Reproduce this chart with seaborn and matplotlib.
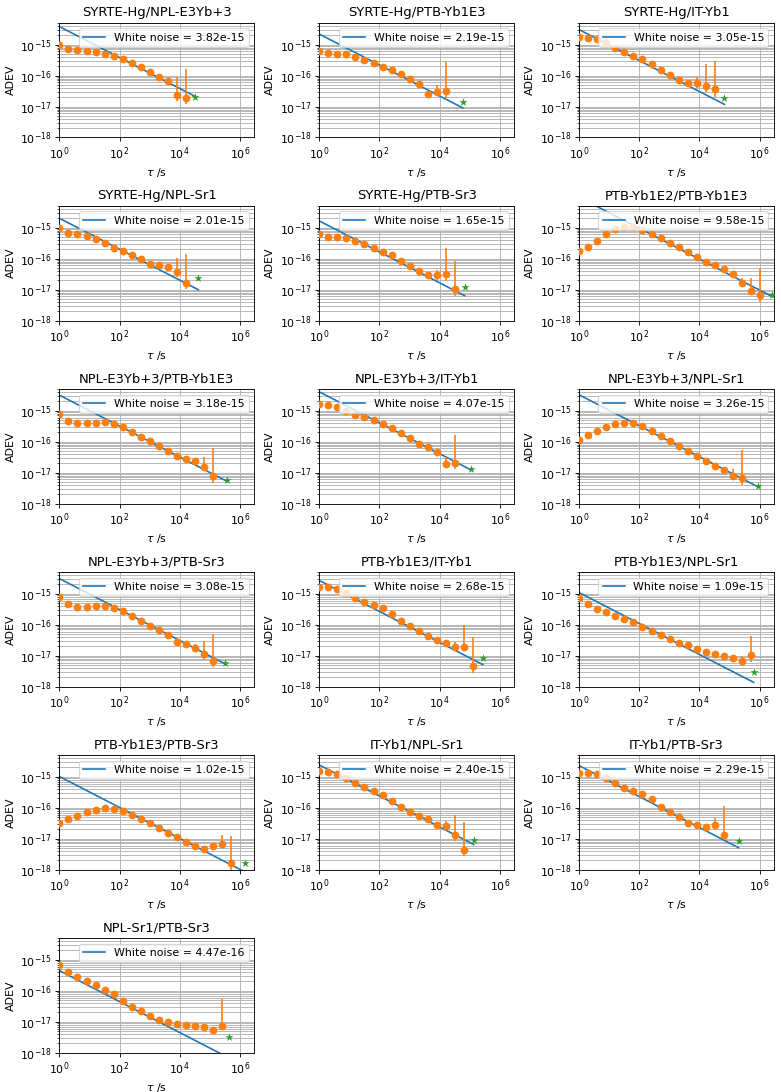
import numpy as np
import matplotlib
matplotlib.use('Agg')
import matplotlib.pyplot as plt
import seaborn as sns

# Pair names, white-noise level and total measurement time per link
titles = ['SYRTE-Hg/NPL-E3Yb+3', 'SYRTE-Hg/PTB-Yb1E3', 'SYRTE-Hg/IT-Yb1',
          'SYRTE-Hg/NPL-Sr1', 'SYRTE-Hg/PTB-Sr3', 'PTB-Yb1E2/PTB-Yb1E3',
          'NPL-E3Yb+3/PTB-Yb1E3', 'NPL-E3Yb+3/IT-Yb1', 'NPL-E3Yb+3/NPL-Sr1',
          'NPL-E3Yb+3/PTB-Sr3', 'PTB-Yb1E3/IT-Yb1', 'PTB-Yb1E3/NPL-Sr1',
          'PTB-Yb1E3/PTB-Sr3', 'IT-Yb1/NPL-Sr1', 'IT-Yb1/PTB-Sr3',
          'NPL-Sr1/PTB-Sr3']
white_noise = [3.82e-15, 2.19e-15, 3.05e-15, 2.01e-15, 1.65e-15, 9.58e-15,
               3.18e-15, 4.07e-15, 3.26e-15, 3.08e-15, 2.68e-15, 1.09e-15,
               1.02e-15, 2.40e-15, 2.29e-15, 4.47e-16]
t_total = [3.3e4, 5.9e4, 6.8e4, 4.2e4, 6.8e4, 2.6e6, 3.6e5, 1.08e5, 9.1e5,
           3.2e5, 2.75e5, 6.3e5, 1.5e6, 1.36e5, 2.0e5, 4.4e5]
star_adev = [2.1e-17, 1.36e-17, 1.88e-17, 2.36e-17, 1.22e-17, 6.9e-18,
             5.9e-18, 1.26e-17, 3.7e-18, 5.75e-18, 8.1e-18, 2.9e-18,
             1.62e-18, 9.1e-18, 8.7e-18, 3.1e-18]

# ADEV at tau = 1, 2, 4, ... s (octave spacing)
adev = [
    [9.5e-16, 7.1e-16, 6.6e-16, 6.2e-16, 5.8e-16, 5.1e-16, 4.4e-16, 3.3e-16,
     2.45e-16, 1.82e-16, 1.32e-16, 9.3e-17, 6.9e-17, 2.3e-17, 1.9e-17],
    [6.25e-16, 5.4e-16, 5.1e-16, 4.9e-16, 4.0e-16, 3.13e-16, 2.45e-16,
     1.91e-16, 1.53e-16, 1.11e-16, 7.5e-17, 5.3e-17, 2.46e-17, 3.0e-17, 3.2e-17],
    [1.76e-15, 1.68e-15, 1.48e-15, 1.13e-15, 7.8e-16, 5.67e-16, 4.43e-16,
     3.3e-16, 2.34e-16, 1.53e-16, 1.03e-16, 7.1e-17, 5.6e-17, 5.6e-17,
     4.57e-17, 3.6e-17],
    [9.7e-16, 6.9e-16, 6.1e-16, 5.4e-16, 4.2e-16, 3.16e-16, 2.24e-16,
     1.71e-16, 1.34e-16, 9.8e-17, 6.6e-17, 6.3e-17, 5.3e-17, 3.6e-17, 1.67e-17],
    [6.1e-16, 5.0e-16, 4.8e-16, 4.57e-16, 3.75e-16, 2.94e-16, 2.14e-16,
     1.67e-16, 1.34e-16, 8.6e-17, 5.6e-17, 4.1e-17, 2.95e-17, 2.95e-17,
     3.1e-17, 1.08e-17],
    [1.8e-16, 2.3e-16, 3.75e-16, 6.1e-16, 8.85e-16, 1.05e-15, 1.05e-15,
     8.2e-16, 6.1e-16, 4.57e-16, 3.24e-16, 2.3e-16, 1.59e-16, 1.1e-16,
     7.8e-17, 6.0e-17, 4.7e-17, 3.1e-17, 1.63e-17, 9.1e-18, 6.6e-18],
    [7.65e-16, 4.7e-16, 3.87e-16, 3.87e-16, 4.07e-16, 4.27e-16, 3.6e-16,
     2.9e-16, 2.06e-16, 1.4e-16, 1.02e-16, 7.06e-17, 4.8e-17, 3.4e-17,
     2.67e-17, 2.3e-17, 1.56e-17, 7.5e-18],
    [1.59e-15, 1.51e-15, 1.34e-15, 1.0e-15, 7.3e-16, 6.15e-16, 5.06e-16,
     3.78e-16, 2.75e-16, 1.87e-16, 1.3e-16, 8.2e-17, 6.56e-17, 4.67e-17,
     1.95e-17, 2.1e-17],
    [1.12e-16, 1.61e-16, 2.27e-16, 3.04e-16, 3.69e-16, 4.07e-16, 3.87e-16,
     3.11e-16, 2.16e-16, 1.47e-16, 1.02e-16, 7.06e-17, 5.0e-17, 3.4e-17,
     2.36e-17, 1.64e-17, 1.23e-17, 7.7e-18, 6.8e-18],
    [7.66e-16, 4.72e-16, 3.8e-16, 3.8e-16, 3.98e-16, 3.98e-16, 3.36e-16,
     2.77e-16, 1.97e-16, 1.34e-16, 9.3e-17, 6.5e-17, 4.5e-17, 2.77e-17,
     2.45e-17, 1.83e-17, 1.13e-17, 6.95e-18],
    [1.63e-15, 1.6e-15, 1.45e-15, 1.05e-15, 7.3e-16, 5.28e-16, 4.34e-16,
     3.48e-16, 2.18e-16, 1.3e-16, 9.0e-17, 6.4e-17, 4.4e-17, 3.2e-17,
     2.63e-17, 1.86e-17, 1.86e-17, 4.7e-18],
    [7.5e-16, 4.5e-16, 3.2e-16, 2.51e-16, 1.92e-16, 1.51e-16, 1.19e-16,
     8.65e-17, 6.46e-17, 4.72e-17, 3.53e-17, 2.63e-17, 2.22e-17, 1.7e-17,
     1.34e-17, 1.1e-17, 1.0e-17, 8.2e-18, 6.6e-18, 1.05e-17],
    [3.28e-17, 4.17e-17, 5.3e-17, 7.26e-17, 8.6e-17, 9.7e-17, 9.25e-17,
     7.6e-17, 5.7e-17, 4.38e-17, 3.13e-17, 2.19e-17, 1.52e-17, 1.11e-17,
     7.76e-18, 5.66e-18, 4.79e-18, 5.66e-18, 6.87e-18, 1.62e-18],
    [1.54e-15, 1.44e-15, 1.21e-15, 8.9e-16, 6.18e-16, 4.63e-16, 3.47e-16,
     2.66e-16, 1.69e-16, 1.07e-16, 7.43e-17, 5.31e-17, 4.17e-17, 2.71e-17,
     2.51e-17, 1.32e-17, 4.46e-18],
    [1.37e-15, 1.3e-15, 1.21e-15, 9.3e-16, 6.18e-16, 4.41e-16, 3.47e-16,
     2.86e-16, 1.86e-16, 1.07e-16, 7.26e-17, 5.06e-17, 3.28e-17, 2.71e-17,
     2.4e-17, 2.71e-17, 1.35e-17],
    [7.0e-16, 4.1e-16, 2.85e-16, 2.14e-16, 1.57e-16, 1.07e-16, 7.7e-17,
     4.8e-17, 3.1e-17, 2.2e-17, 1.5e-17, 1.15e-17, 9.5e-18, 8.5e-18,
     7.8e-18, 7.3e-18, 7.0e-18, 5.3e-18, 7.3e-18],
]

# Upper / lower ends of the visible error bars, for the last points of each series
err_hi = [
    [7.6e-17, 8.7e-17, 1.58e-16],
    [2.7e-17, 4.9e-17, 2.7e-16],
    [8.7e-17, 2.34e-16, 2.9e-16],
    [6.0e-17, 1.02e-16, 1.4e-16],
    [4.35e-17, 2.19e-16, 8.6e-17],
    [2.4e-17, 2.36e-17, 5.0e-17],
    [2.6e-17, 3.1e-17, 6.1e-17],
    [5.2e-17, 3.1e-17, 1.62e-16],
    [1.35e-17, 1.35e-17, 5.3e-17],
    [2.45e-17, 2.98e-17, 5.1e-17],
    [2.83e-17, 9.7e-17, 3.9e-17],
    [9.5e-18, 1.0e-17, 4.2e-17],
    [6.6e-18, 1.35e-17, 1.26e-17],
    [3.7e-17, 5.7e-17, 3.5e-17],
    [3.0e-17, 4.7e-17, 1.1e-16],
    [7.8e-18, 6.2e-18, 5.5e-17],
]
err_lo = [
    [6.2e-17, 1.5e-17, 1.2e-17],
    [2.2e-17, 2.35e-17, 1.94e-17],
    [4.1e-17, 3.0e-17, 2.1e-17],
    [4.7e-17, 2.5e-17, 1.05e-17],
    [2.1e-17, 1.9e-17, 6.3e-18],
    [1.28e-17, 6.9e-18, 4.0e-18],
    [2.0e-17, 1.23e-17, 4.7e-18],
    [4.2e-17, 1.49e-17, 1.29e-17],
    [1.1e-17, 6.3e-18, 4.1e-18],
    [1.5e-17, 7.7e-18, 4.3e-18],
    [1.54e-17, 1.54e-17, 2.75e-18],
    [7.0e-18, 4.5e-18, 6.3e-18],
    [4.8e-18, 5.0e-18, 5.0e-19],
    [2.03e-17, 8.3e-18, 2.75e-18],
    [2.0e-17, 2.03e-17, 9.1e-18],
    [6.2e-18, 4.3e-18, 5.25e-18],
]

DPI = 79
fig, axes = plt.subplots(6, 3, figsize=(781 / DPI, 1092 / DPI), dpi=DPI)
axes = axes.ravel()

for i, title in enumerate(titles):
    ax = axes[i]
    vals = np.array(adev[i])
    taus = 2.0 ** np.arange(len(vals))
    hi = vals.copy()
    lo = vals.copy()
    n = len(err_hi[i])
    hi[-n:] = err_hi[i]
    lo[-n:] = err_lo[i]

    T = t_total[i]
    sigma = white_noise[i]
    sns.lineplot(x=[1.0, T], y=[sigma, sigma / np.sqrt(T)], ax=ax, color='C0',
                 label=f'White noise = {sigma:.2e}')
    ax.errorbar(taus, vals, yerr=[vals - lo, hi - vals], fmt='none',
                ecolor='C1', elinewidth=1.5, zorder=3)
    sns.scatterplot(x=taus, y=vals, ax=ax, color='C1', s=50, linewidth=0,
                    zorder=4)
    sns.scatterplot(x=[T], y=[star_adev[i]], ax=ax, color='C2', marker='*',
                    s=60, linewidth=0, zorder=4)

    ax.set_xscale('log')
    ax.set_yscale('log')
    ax.set_xlim(1, 3e6)
    ax.set_ylim(1e-18, 5e-15)
    ax.grid(True, which='both')
    ax.set_title(title)
    ax.set_xlabel(r'$\tau$ /s')
    ax.set_ylabel('ADEV')
    ax.legend(loc='upper right')

for ax in axes[len(titles):]:
    ax.remove()

fig.subplots_adjust(left=0.076, right=0.991, top=0.979, bottom=0.036,
                    wspace=0.333, hspace=0.598)
fig.savefig('out.png', dpi=DPI)
